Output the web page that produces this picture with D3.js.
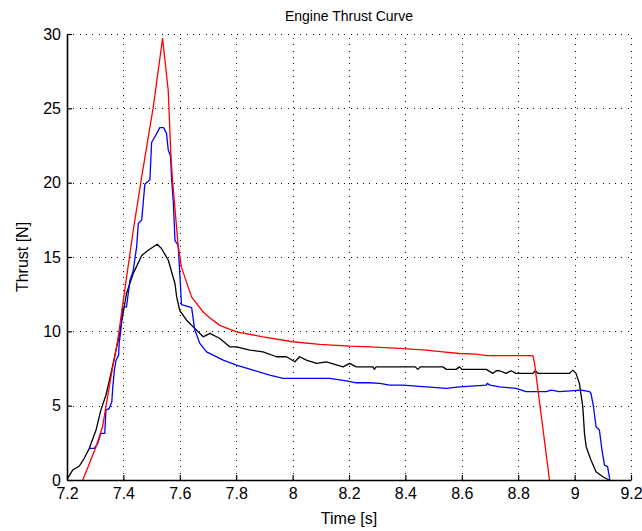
<!DOCTYPE html>
<html>
<head>
<meta charset="utf-8">
<script src="https://cdn.jsdelivr.net/npm/d3@7"></script>
<style>
  html, body { margin: 0; padding: 0; background: #fff; }
  svg { display: block; }
  text { font-family: "Liberation Sans", Arial, Helvetica, sans-serif; fill: #000; }
</style>
</head>
<body>
<svg id="chart" width="642" height="531"></svg>
<script>
// Thrust measurements [time (s), thrust (N)] for three engine tests
const redSeries = [
  [7.256, 0], [7.303, 2.24], [7.326, 3.58], [7.344, 5.6], [7.362, 7.6], [7.38, 9.4],
  [7.405, 12.8], [7.435, 16.8], [7.465, 20.4], [7.506, 25.1], [7.539, 29.7],
  [7.559, 26.2], [7.568, 22.0], [7.574, 20.2], [7.594, 15.8], [7.606, 14.3],
  [7.642, 12.3], [7.683, 11.3], [7.707, 10.9], [7.742, 10.4], [7.801, 9.97],
  [7.895, 9.63], [8.0, 9.3], [8.096, 9.12], [8.202, 9.0], [8.273, 8.96],
  [8.38, 8.85], [8.474, 8.74], [8.533, 8.62], [8.592, 8.51], [8.651, 8.47],
  [8.687, 8.36], [8.852, 8.36], [8.858, 7.84], [8.911, 0]
];

const blueSeries = [
  [7.279, 2.13], [7.297, 2.13], [7.309, 2.46], [7.32, 3.14], [7.334, 3.14], [7.338, 4.7],
  [7.35, 4.82], [7.359, 5.26], [7.362, 6.16], [7.368, 7.39], [7.374, 8.06], [7.383, 8.4],
  [7.385, 9.19], [7.391, 10.1], [7.397, 11.65], [7.411, 11.65], [7.423, 13.4],
  [7.435, 14.1], [7.447, 15.7], [7.453, 17.25], [7.465, 17.5], [7.476, 19.9],
  [7.494, 20.2], [7.5, 22.7], [7.518, 23.3], [7.529, 23.7], [7.543, 23.7],
  [7.553, 23.3], [7.559, 22.2], [7.567, 21.8], [7.571, 20.2], [7.577, 18.7],
  [7.583, 16.1], [7.594, 15.8], [7.6, 13.9], [7.606, 11.8], [7.642, 11.6],
  [7.653, 10.1], [7.671, 9.19], [7.695, 8.62], [7.754, 8.06], [7.801, 7.73],
  [7.86, 7.39], [7.919, 7.06], [7.966, 6.83], [8.132, 6.83], [8.191, 6.67],
  [8.226, 6.54], [8.273, 6.54], [8.309, 6.5], [8.344, 6.38], [8.391, 6.38],
  [8.474, 6.27], [8.545, 6.16], [8.592, 6.27], [8.687, 6.38], [8.69, 6.5],
  [8.7, 6.38], [8.734, 6.27], [8.792, 6.16], [8.828, 5.94], [8.899, 5.94],
  [8.917, 6.05], [8.946, 5.94], [9.023, 6.05], [9.053, 5.94], [9.058, 5.82],
  [9.067, 4.93], [9.076, 3.58], [9.088, 3.36], [9.097, 2.02], [9.106, 1.0],
  [9.117, 0.9], [9.125, 0]
];

const blackSeries = [
  [7.2, 0], [7.202, 0.11], [7.22, 0.67], [7.244, 0.94], [7.261, 1.46], [7.279, 2.13],
  [7.303, 3.36], [7.32, 4.7], [7.338, 5.7], [7.356, 7.17], [7.374, 8.74], [7.388, 10.0],
  [7.411, 12.55], [7.435, 13.9], [7.465, 15.1], [7.488, 15.45], [7.52, 15.86],
  [7.535, 15.57], [7.559, 14.8], [7.583, 13.2], [7.589, 12.3], [7.6, 11.4],
  [7.624, 10.75], [7.653, 10.2], [7.683, 9.63], [7.707, 9.86], [7.742, 9.52],
  [7.777, 8.96], [7.801, 8.96], [7.848, 8.74], [7.895, 8.62], [7.943, 8.29],
  [7.978, 8.29], [8.008, 7.95], [8.025, 8.29], [8.049, 8.06], [8.085, 7.84],
  [8.12, 7.95], [8.179, 7.61], [8.202, 7.84], [8.226, 7.61], [8.285, 7.61],
  [8.29, 7.44], [8.296, 7.61], [8.435, 7.61], [8.444, 7.44], [8.453, 7.61],
  [8.533, 7.61], [8.545, 7.44], [8.58, 7.44], [8.592, 7.61], [8.6, 7.44],
  [8.687, 7.44], [8.71, 7.17], [8.722, 7.35], [8.734, 7.35], [8.757, 7.17],
  [8.775, 7.35], [8.792, 7.17], [8.852, 7.17], [8.861, 7.35], [8.87, 7.17],
  [8.982, 7.17], [8.994, 7.39], [9.005, 7.17], [9.017, 6.5], [9.029, 4.93],
  [9.035, 3.14], [9.041, 2.24], [9.058, 1.34], [9.076, 0.56], [9.1, 0.22],
  [9.117, 0.05], [9.125, 0]
];

const xTicks = [7.2, 7.4, 7.6, 7.8, 8, 8.2, 8.4, 8.6, 8.8, 9, 9.2];
const yTicks = [0, 5, 10, 15, 20, 25, 30];

const titleText = "Engine Thrust Curve";
const xLabelText = "Time [s]";
const yLabelText = "Thrust [N]";

const W = 642, H = 531;
const margin = { top: 34, right: 11, bottom: 51, left: 67 };
const innerW = W - margin.left - margin.right;
const innerH = H - margin.top - margin.bottom;

const svg = d3.select("#chart");
const g = svg.append("g").attr("transform", `translate(${margin.left},${margin.top})`);

const x = d3.scaleLinear().domain([7.2, 9.2]).range([0, innerW]);
const y = d3.scaleLinear().domain([0, 30]).range([innerH, 0]);

// dotted grid
const grid = g.append("g").attr("class", "grid")
  .attr("stroke", "#111").attr("stroke-width", 1).attr("stroke-dasharray", "1,5.3")
  .attr("shape-rendering", "crispEdges");
grid.selectAll("line.gx").data(xTicks.slice(1)).join("line")
  .attr("x1", d => Math.round(x(d)) + 0.5).attr("x2", d => Math.round(x(d)) + 0.5)
  .attr("y1", innerH).attr("y2", 0);
grid.selectAll("line.gy").data(yTicks.slice(1)).join("line")
  .attr("y1", d => Math.round(y(d)) + 0.5).attr("y2", d => Math.round(y(d)) + 0.5)
  .attr("x1", 0).attr("x2", innerW);

// data lines
const line = d3.line().x(d => x(d[0])).y(d => y(d[1]));
g.append("clipPath").attr("id", "plotclip")
  .append("rect").attr("x", 0).attr("y", -2).attr("width", innerW).attr("height", innerH + 2);
const plot = g.append("g").attr("clip-path", "url(#plotclip)");
[[blackSeries, "#000000"], [blueSeries, "#0000ff"], [redSeries, "#ff0000"]].forEach(([data, color]) => {
  plot.append("path").datum(data)
    .attr("fill", "none").attr("stroke", color).attr("stroke-width", 1.3)
    .attr("stroke-linejoin", "round")
    .attr("d", line);
});

// axes with inward ticks
const xAxis = d3.axisBottom(x).tickValues(xTicks).tickFormat(d3.format("~g"))
  .tickSizeInner(-5).tickSizeOuter(0).tickPadding(8);
const yAxis = d3.axisLeft(y).tickValues(yTicks).tickFormat(d3.format("~g"))
  .tickSizeInner(-5).tickSizeOuter(0).tickPadding(6);

const gx = g.append("g").attr("transform", `translate(0,${innerH})`).call(xAxis);
const gy = g.append("g").call(yAxis);
[gx, gy].forEach(a => {
  a.select(".domain").attr("stroke", "#000").attr("stroke-width", 1.6);
  a.selectAll(".tick line").attr("stroke", "#000").attr("stroke-width", 1.2);
  a.selectAll(".tick text").attr("font-size", 16)
    .attr("font-family", "Liberation Sans, Arial, sans-serif").attr("fill", "#000");
});

// title and axis labels
svg.append("text").attr("x", margin.left + innerW / 2).attr("y", 21)
  .attr("text-anchor", "middle").attr("font-size", 14).text(titleText);
svg.append("text").attr("x", margin.left + innerW / 2).attr("y", 524)
  .attr("text-anchor", "middle").attr("font-size", 16).text(xLabelText);
svg.append("text")
  .attr("transform", `translate(28,${margin.top + innerH / 2}) rotate(-90)`)
  .attr("text-anchor", "middle").attr("font-size", 16).text(yLabelText);
</script>
</body>
</html>
